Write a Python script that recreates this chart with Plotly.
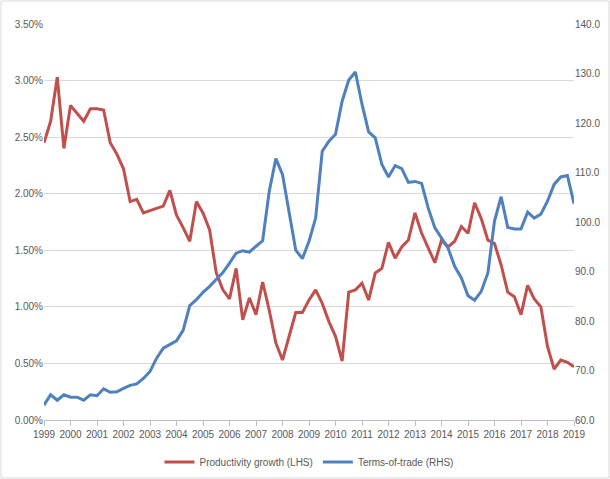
import plotly.graph_objects as go

years = [1999 + 0.25 * i for i in range(81)]
tick_years = list(range(1999, 2020))

productivity = [2.45, 2.64, 3.03, 2.40, 2.78, 2.71, 2.64, 2.75, 2.75, 2.74,
                2.45, 2.35, 2.22, 1.93, 1.95, 1.83, 1.85, 1.87, 1.89, 2.03,
                1.81, 1.70, 1.58, 1.93, 1.83, 1.68, 1.30, 1.15, 1.07, 1.34,
                0.885, 1.08, 0.93, 1.22, 0.97, 0.68, 0.53, 0.74, 0.95, 0.95,
                1.06, 1.15, 1.03, 0.87, 0.74, 0.52, 1.13, 1.15, 1.21, 1.06,
                1.30, 1.34, 1.57, 1.43, 1.53, 1.59, 1.83, 1.65, 1.52, 1.39,
                1.59, 1.53, 1.58, 1.71, 1.65, 1.92, 1.78, 1.59, 1.56, 1.37,
                1.13, 1.09, 0.93, 1.19, 1.07, 1.00, 0.65, 0.45, 0.53, 0.51,
                0.47]

terms_of_trade = [63.0, 65.1, 64.0, 65.1, 64.6, 64.6, 64.0, 65.1, 64.9, 66.3,
                  65.6, 65.7, 66.4, 67.0, 67.3, 68.4, 69.8, 72.5, 74.5, 75.2,
                  76.0, 78.1, 83.1, 84.3, 85.8, 87.0, 88.3, 89.8, 91.7, 93.7,
                  94.2, 93.9, 95.1, 96.2, 106.2, 112.8, 109.6, 101.8, 94.3, 92.6,
                  96.1, 100.8, 114.3, 116.3, 117.7, 124.4, 128.7, 130.3, 123.8, 118.2,
                  117.0, 111.6, 109.1, 111.4, 110.8, 108.0, 108.2, 107.8, 102.8, 98.8,
                  96.8, 94.7, 91.0, 88.7, 85.1, 84.2, 86.0, 89.7, 100.2, 105.1,
                  98.9, 98.6, 98.6, 102.0, 100.8, 101.6, 104.2, 107.6, 109.1, 109.4,
                  103.7]

font_family = "Liberation Sans"
txt = "#595959"

fig = go.Figure()
fig.add_trace(go.Scatter(
    x=years, y=[v / 100 for v in productivity], mode="lines",
    name="Productivity growth (LHS)",
    line=dict(color="#c0504d", width=3), yaxis="y"))
fig.add_trace(go.Scatter(
    x=years, y=terms_of_trade, mode="lines",
    name="Terms-of-trade (RHS)",
    line=dict(color="#4f81bd", width=3), yaxis="y2"))

W, H = 610, 479
ml, mr, mt, mb = 44, 36, 24, 59
pw, ph = W - ml - mr, H - mt - mb

fig.update_layout(
    width=W, height=H,
    margin=dict(l=ml, r=mr, t=mt, b=mb, autoexpand=False),
    paper_bgcolor="white", plot_bgcolor="white",
    font=dict(family=font_family, size=10, color=txt),
    showlegend=True,
    legend=dict(orientation="h", x=0.5, xanchor="center",
                y=(420 - 462) / ph, yanchor="middle",
                font=dict(size=10, color=txt), itemwidth=30),
    xaxis=dict(range=[1999, 2019], tickmode="array", tickvals=tick_years,
               ticktext=[str(y) for y in tick_years],
               showgrid=False, zeroline=False,
               showline=True, linecolor="#bfbfbf", linewidth=1,
               ticks="outside", ticklen=5, tickcolor="#bfbfbf",
               tickfont=dict(size=10, color=txt)),
    yaxis=dict(range=[0, 0.035], dtick=0.005, tickformat=".2%",
               showgrid=True, gridcolor="#d9d9d9", gridwidth=1,
               zeroline=False, showline=False, ticks="",
               tickfont=dict(size=10, color=txt)),
    yaxis2=dict(range=[60, 140], dtick=10, tickformat=".1f",
                overlaying="y", side="right", showgrid=False,
                zeroline=False, showline=False, ticks="",
                tickfont=dict(size=10, color=txt)),
)

fig.add_shape(type="rect", xref="paper", yref="paper",
              x0=(-ml + 1) / pw, x1=(W - ml - 1) / pw,
              y0=(-mb + 1) / ph, y1=(ph + mt - 1) / ph,
              line=dict(color="#d9d9d9", width=1), layer="below")

fig.write_html("out.html", config={"displayModeBar": False},
               post_script="document.body.style.margin='0';")
